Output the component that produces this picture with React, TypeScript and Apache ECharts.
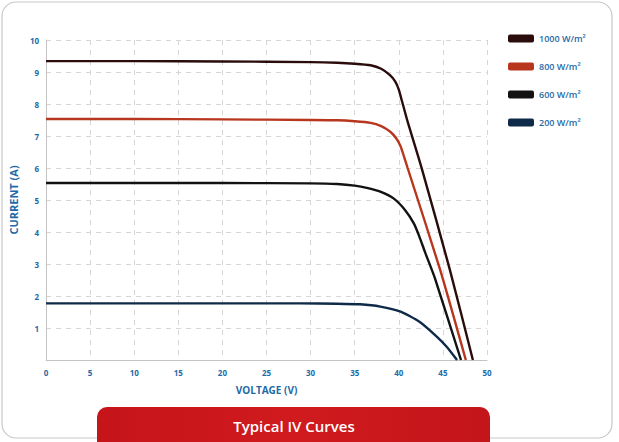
import React, { useEffect, useRef } from "react";
import * as echarts from "echarts";

const seriesNames = ["1000 W/m²", "800 W/m²", "600 W/m²", "200 W/m²"];
const seriesColors = ["#2b0c0c", "#b8361e", "#121212", "#0f2a48"];

const v1000 = [0, 10, 20, 30, 33, 35, 36.8, 38.0, 39.0, 39.6, 40.0, 40.3, 40.6, 41.0, 42.6, 45.8, 48.4];
const i1000 = [9.34, 9.34, 9.33, 9.31, 9.29, 9.26, 9.21, 9.1, 8.9, 8.7, 8.45, 8.15, 7.85, 7.45, 5.99, 2.81, 0];

const v800 = [0, 10, 20, 30, 33, 35, 36.8, 38.0, 39.0, 39.7, 40.2, 40.6, 41.0, 44.7, 47.6];
const i800 = [7.53, 7.53, 7.52, 7.5, 7.49, 7.46, 7.41, 7.31, 7.14, 6.93, 6.68, 6.35, 6.0, 2.81, 0];

const v600 = [0, 10, 20, 30, 33, 35, 36.5, 37.9, 39.4, 40.7, 41.7, 42.3, 43.0, 44.1, 47.05];
const i600 = [5.53, 5.53, 5.53, 5.52, 5.5, 5.45, 5.37, 5.26, 5.05, 4.69, 4.27, 3.88, 3.35, 2.55, 0];

const v200 = [0, 10, 20, 28.8, 33, 35.6, 37.9, 40.2, 42.3, 44.3, 45.4, 46.6];
const i200 = [1.77, 1.77, 1.77, 1.77, 1.76, 1.74, 1.67, 1.51, 1.2, 0.73, 0.42, 0];

const xTicks = [0, 5, 10, 15, 20, 25, 30, 35, 40, 45, 50];

const zip = (v: number[], c: number[]) => v.map((x, k) => [x, c[k]]);

export default function App() {
  const ref = useRef<HTMLDivElement>(null);
  useEffect(() => {
    if (!ref.current) return;
    const chart = echarts.init(ref.current, null, { renderer: "svg" });
    const datasets = [zip(v1000, i1000), zip(v800, i800), zip(v600, i600), zip(v200, i200)];
    const blue = "#1f6aa6";
    chart.setOption({
      animation: false,
      backgroundColor: "#ffffff",
      grid: { left: 45, right: 132, top: 40, bottom: 82 },
      legend: {
        orient: "vertical",
        left: 503,
        top: 29,
        itemWidth: 26,
        itemHeight: 8,
        itemGap: 19,
        icon: "roundRect",
        data: seriesNames,
        textStyle: { color: blue, fontSize: 9, fontFamily: "Open Sans", fontWeight: 600 },
      },
      xAxis: {
        type: "value",
        min: 0,
        max: 50,
        interval: 5,
        name: "VOLTAGE (V)",
        nameLocation: "middle",
        nameGap: 25,
        nameTextStyle: { color: blue, fontSize: 10, fontWeight: "bold", fontFamily: "Open Sans" },
        axisLine: { show: true, lineStyle: { color: "#c4c4c4", width: 1 } },
        axisTick: { show: false },
        axisLabel: {
          color: blue,
          fontSize: 8,
          fontWeight: "bold",
          fontFamily: "Open Sans",
          margin: 8,
          formatter: (v: number) => (xTicks.includes(v) ? String(v) : ""),
        },
        splitLine: { show: true, lineStyle: { color: "#d6d6d6", type: [5, 5], width: 1 } },
      },
      yAxis: {
        type: "value",
        min: 0,
        max: 10,
        interval: 1,
        name: "CURRENT (A)",
        nameLocation: "middle",
        nameGap: 22,
        nameRotate: 90,
        nameTextStyle: { color: blue, fontSize: 11, fontWeight: "bold", fontFamily: "Open Sans" },
        axisLine: { show: true, lineStyle: { color: "#c4c4c4", width: 1 } },
        axisTick: { show: false },
        axisLabel: {
          color: blue,
          fontSize: 8,
          fontWeight: "bold",
          fontFamily: "Open Sans",
          margin: 7,
          formatter: (v: number) => (v === 0 ? "" : String(v)),
        },
        splitLine: { show: true, lineStyle: { color: "#d6d6d6", type: [5, 5], width: 1 } },
      },
      series: seriesNames.map((name, k) => ({
        name,
        type: "line",
        data: datasets[k],
        smooth: 0.2,
        showSymbol: false,
        symbol: "none",
        itemStyle: { color: seriesColors[k] },
        lineStyle: { color: seriesColors[k], width: 2.4 },
      })),
      graphic: [
        {
          type: "rect",
          shape: { x: 2, y: 2, width: 610, height: 436, r: 14 },
          style: { fill: "none", stroke: "#c9c9c9", lineWidth: 1.2 },
          silent: true,
          z: -1,
        },
        {
          type: "rect",
          shape: { x: 97, y: 407, width: 393, height: 50, r: 10 },
          style: {
            fill: new echarts.graphic.LinearGradient(0, 0, 1, 0, [
              { offset: 0, color: "#c5141a" },
              { offset: 0.5, color: "#d01a1e" },
              { offset: 1, color: "#c3151a" },
            ]),
          },
          silent: true,
        },
        {
          type: "text",
          x: 294,
          y: 426,
          style: {
            text: "Typical IV Curves",
            fill: "#ffffff",
            fontSize: 15,
            fontFamily: "Open Sans",
            fontWeight: 600,
            align: "center",
            verticalAlign: "middle",
          },
          silent: true,
        },
      ],
    });
    return () => chart.dispose();
  }, []);
  return <div ref={ref} style={{ position: "fixed", left: 0, top: 0, width: 619, height: 442 }} />;
}
